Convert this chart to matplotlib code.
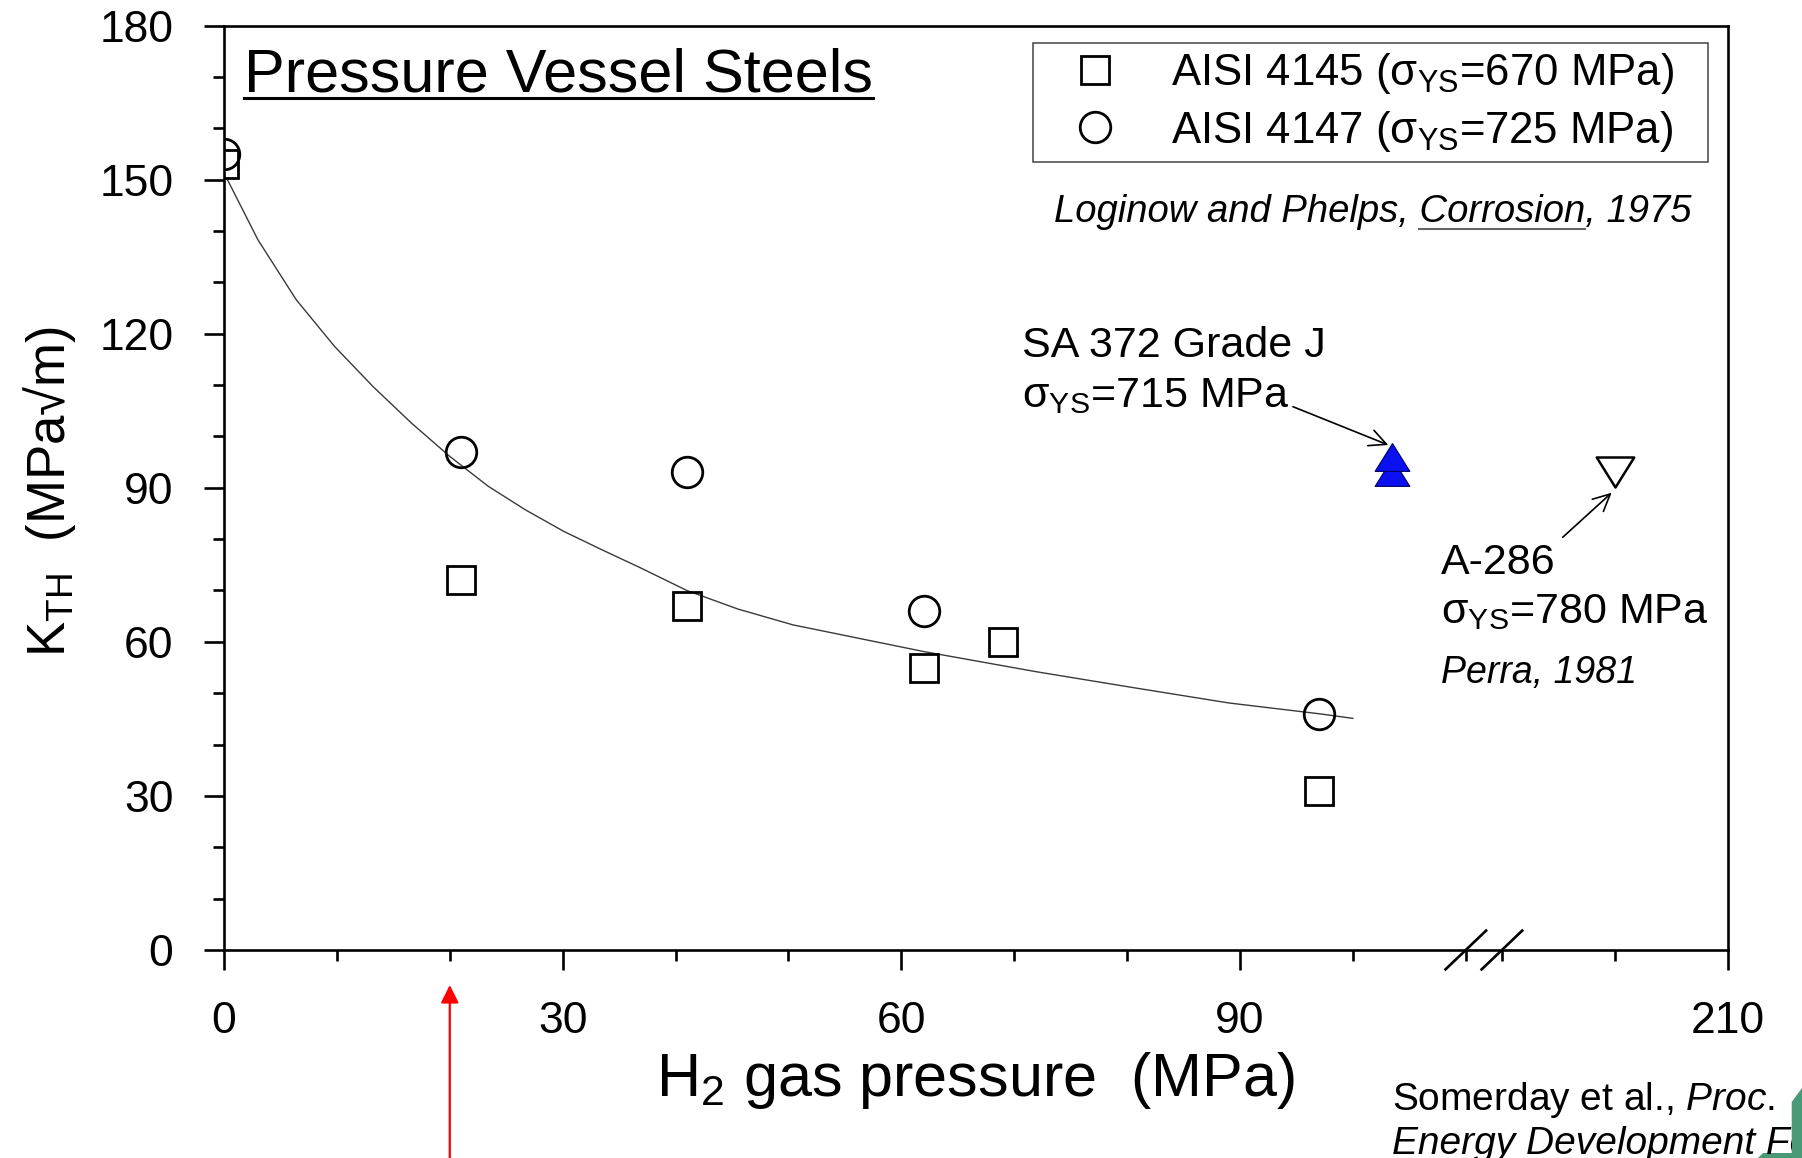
import numpy as np
import matplotlib
matplotlib.use("Agg")
import matplotlib.pyplot as plt
from matplotlib.ticker import FixedLocator, FixedFormatter, MultipleLocator
from matplotlib.patches import Polygon
from matplotlib.path import Path
from matplotlib.transforms import Bbox, TransformedBbox

plt.rcParams['font.family'] = ['Liberation Sans', 'DejaVu Sans']
plt.rcParams['mathtext.fontset'] = 'custom'
plt.rcParams['mathtext.rm'] = 'Liberation Sans'
plt.rcParams['mathtext.it'] = 'Liberation Sans:italic'
plt.rcParams['mathtext.bf'] = 'Liberation Sans:bold'
plt.rcParams['mathtext.sf'] = 'Liberation Sans'

# ---------------- data ----------------
aisi4145_p = [0, 21, 41, 62, 69, 97]
aisi4145_k = [153, 72, 67, 55, 60, 31]
aisi4147_p = [0, 21, 41, 62, 97]
aisi4147_k = [155, 97, 93, 66, 46]
sa372_p = [103.5, 103.5]
sa372_k = [93, 96]
a286_p = [200]
a286_k = [93]
trend_p = [0.3, 3.0, 6.4, 9.8, 13.2, 16.6, 20.0, 23.4, 26.7, 30.1, 33.5, 36.9,
           41.0, 45.5, 50.4, 62.0, 71.9, 80.5, 89.0, 97.0, 100.0]
trend_k = [150.0, 138.3, 126.6, 117.5, 109.7, 102.6, 96.1, 90.3, 85.7, 81.5, 77.9, 74.4,
           70.0, 66.4, 63.3, 58.1, 54.2, 51.1, 48.1, 46.0, 45.1]

x_major = [0, 30, 60, 90, 210]
x_major_labels = ['0', '30', '60', '90', '210']
x_minor = [10, 20, 40, 50, 70, 80, 100, 110, 190, 200]
break_marks = [110, 190]
highlight_p = 20

label_4145 = r'AISI 4145 (σ$_{\mathrm{YS}}$=670 MPa)'
label_4147 = r'AISI 4147 (σ$_{\mathrm{YS}}$=725 MPa)'

BREAK_SHIFT = 76.8
def to_axis(p):
    p = np.asarray(p, dtype=float)
    return np.where(p >= 150, p - BREAK_SHIFT, p)

# ---------------- figure ----------------
W, H = 1802, 1158
fig = plt.figure(figsize=(W / 100, H / 100), dpi=100)
ax = fig.add_axes([224 / W, 1 - 950 / H, 1503.7 / W, 924.5 / H])

ax.set_xlim(0, float(to_axis([210])[0]))
ax.set_ylim(0, 180)

ax.plot(to_axis(trend_p), trend_k, color='#3a3a3a', lw=1.0, zorder=2)
h1, = ax.plot(to_axis(aisi4145_p), aisi4145_k, ls='none', marker='s', ms=20,
              mfc='none', mec='black', mew=2.0, zorder=3)
h2, = ax.plot(to_axis(aisi4147_p), aisi4147_k, ls='none', marker='o', ms=22,
              mfc='none', mec='black', mew=2.0, zorder=3)
tri_up = Path([(0, 0.8), (-1, -0.8), (1, -0.8), (0, 0.8)],
              [Path.MOVETO, Path.LINETO, Path.LINETO, Path.CLOSEPOLY])
tri_dn = Path([(0, -0.8), (-1, 0.8), (1, 0.8), (0, -0.8)],
              [Path.MOVETO, Path.LINETO, Path.LINETO, Path.CLOSEPOLY])
for pp, kk in zip(sa372_p, sa372_k):
    ax.plot(to_axis([pp]), [kk], ls='none', marker=tri_up, ms=25, mfc='#0a10f0',
            mec='#000060', mew=0.8, zorder=4)
ax.plot(to_axis(a286_p), a286_k, ls='none', marker=tri_dn, ms=27, mfc='white',
        mec='black', mew=1.8, zorder=4)

# axes styling
for s in ax.spines.values():
    s.set_linewidth(1.9)
ax.xaxis.set_major_locator(FixedLocator(to_axis(x_major)))
ax.xaxis.set_major_formatter(FixedFormatter(x_major_labels))
ax.xaxis.set_minor_locator(FixedLocator(to_axis(x_minor)))
ax.yaxis.set_major_locator(MultipleLocator(30))
ax.yaxis.set_minor_locator(MultipleLocator(10))
ax.tick_params(which='both', direction='out', width=1.9, top=False, right=False)
ax.tick_params(which='major', length=14.4, labelsize=32, pad=22)
ax.tick_params(which='minor', length=8)

ax.set_xlabel(r'H$_2$ gas pressure  (MPa)', fontsize=44, va='baseline')
ax.xaxis.set_label_coords(0.5, (950 - 1096) / 924.5)
ax.set_ylabel(r'K$_{\mathrm{TH}}$  (MPa√m)', fontsize=38, va='baseline')
ax.yaxis.set_label_coords((65 - 224) / 1503.7, (950 - 492) / 924.5)

# axis break slashes
for b in break_marks:
    xb = float(to_axis([b])[0])
    ax.plot([xb - 1.8, xb + 1.8], [-0.021, 0.021], color='black', lw=1.9,
            transform=ax.get_xaxis_transform(), clip_on=False, zorder=5)

def fx(px):
    return (px - 224) / 1503.7
def fy(py):
    return (950 - py) / 924.5

# legend
leg = ax.legend(handles=[h1, h2], labels=[label_4145, label_4147], loc='upper left',
                bbox_to_anchor=(fx(1033.4), fy(179.3), fx(1707.5) - fx(1033.4), fy(42.7) - fy(179.3)),
                mode='expand', borderaxespad=0, fontsize=31.5, frameon=True, fancybox=False,
                edgecolor='#444444', framealpha=1, handlelength=2.4, handletextpad=0.55,
                borderpad=0.2, labelspacing=0.28, numpoints=1)
leg.get_frame().set_linewidth(1.1)

# texts
title = ax.text(fx(244), fy(91.7), 'Pressure Vessel Steels', fontsize=44, ha='left',
                va='baseline', transform=ax.transAxes)
cite = ax.text(fx(1691), fy(221.7), 'Loginow and Phelps, Corrosion, 1975', fontsize=27.5,
               style='italic', ha='right', va='baseline', transform=ax.transAxes)

ax.text(fx(1021.7), fy(356.7), 'SA 372 Grade J', fontsize=31, ha='left', va='baseline',
        transform=ax.transAxes)
ax.text(fx(1021.7), fy(406.7), r'σ$_{\mathrm{YS}}$=715 MPa', fontsize=31, ha='left',
        va='baseline', transform=ax.transAxes)
ax.text(fx(1441), fy(574), 'A-286', fontsize=31, ha='left', va='baseline',
        transform=ax.transAxes)
ax.text(fx(1441), fy(623.3), r'σ$_{\mathrm{YS}}$=780 MPa', fontsize=31, ha='left',
        va='baseline', transform=ax.transAxes)
ax.text(fx(1441), fy(682.7), 'Perra, 1981', fontsize=27, style='italic', ha='left',
        va='baseline', transform=ax.transAxes)

arrow_kw = dict(arrowstyle='->,head_length=0.45,head_width=0.22', color='black', lw=1.2,
                shrinkA=0, shrinkB=0, mutation_scale=27)
ax.annotate('', xy=(fx(1388.3), fy(445)), xycoords='axes fraction',
            xytext=(fx(1293), fy(406.7)), textcoords='axes fraction', arrowprops=arrow_kw)
ax.annotate('', xy=(fx(1611.7), fy(492.7)), xycoords='axes fraction',
            xytext=(fx(1562.7), fy(537.3)), textcoords='axes fraction', arrowprops=arrow_kw)

# red arrow pointing at highlighted pressure
ax.annotate('', xy=(highlight_p, fy(985)), xycoords=('data', 'axes fraction'),
            xytext=(highlight_p, fy(1162)), textcoords=('data', 'axes fraction'),
            arrowprops=dict(arrowstyle='-|>,head_length=0.4,head_width=0.2', color='#ff0000',
                            lw=1.6, shrinkA=0, shrinkB=0, mutation_scale=27),
            annotation_clip=False)

# green corner decoration
def ff(px, py):
    return (px / W, 1 - py / H)
green = Polygon([ff(1791.7, 1102), ff(1802, 1088), ff(1802, 1158), ff(1758, 1158),
                 ff(1763, 1153), ff(1791.7, 1153)], closed=True, transform=fig.transFigure,
                facecolor='#4a9a78', edgecolor='none', zorder=0)
fig.patches.append(green)

clip = TransformedBbox(Bbox([[0, 0], [1791.7 / W, 1]]), fig.transFigure)
t1 = fig.text(1391.7 / W, 1 - 1110 / H, r'Somerday et al., $\mathit{Proc.\ Int.\ Hydrogen}$',
              fontsize=28, ha='left', va='baseline')
t2 = fig.text(1391.7 / W, 1 - 1154 / H, 'Energy Development Forum, 2008', fontsize=28,
              style='italic', ha='left', va='baseline')
for t in (t1, t2):
    t.set_clip_box(clip)
    t.set_clip_on(True)

# underlines
fig.canvas.draw()
r = fig.canvas.get_renderer()
inv = ax.transAxes.inverted()
bb = title.get_window_extent(r)
x0 = inv.transform((bb.x0, 0))[0]
x1 = inv.transform((bb.x1, 0))[0]
ax.plot([x0, x1], [fy(97.7), fy(97.7)], color='black', lw=2.2, transform=ax.transAxes,
        clip_on=False)

bbc = cite.get_window_extent(r)
tmp1 = ax.text(0, 0, 'Loginow and Phelps, Corrosion', fontsize=27.5, style='italic')
tmp2 = ax.text(0, 0, 'Corrosion', fontsize=27.5, style='italic')
w1 = tmp1.get_window_extent(r).width
w2 = tmp2.get_window_extent(r).width
tmp1.remove(); tmp2.remove()
ux1 = bbc.x0 + w1
ux0 = ux1 - w2
u0 = inv.transform((ux0, 0))[0]
u1 = inv.transform((ux1, 0))[0]
ax.plot([u0, u1], [fy(229), fy(229)], color='#666666', lw=1.5, transform=ax.transAxes,
        clip_on=False)

fig.savefig('out.png', dpi=100)
